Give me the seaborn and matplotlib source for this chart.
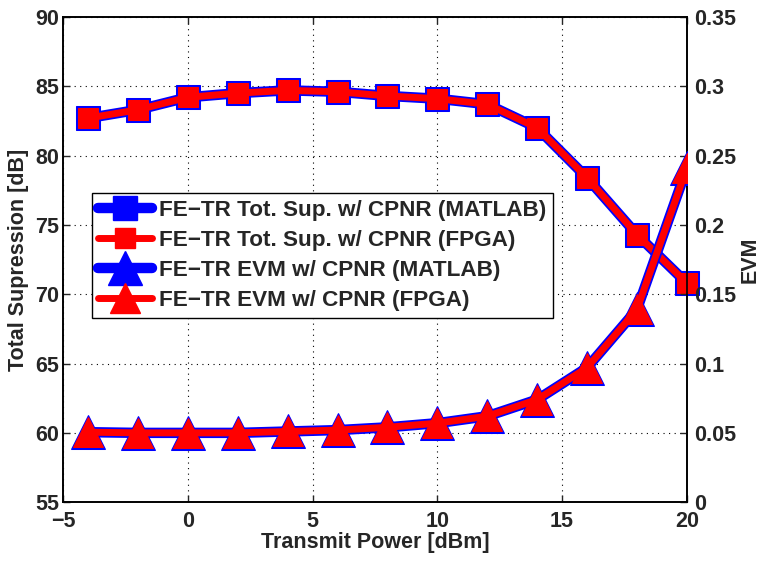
import numpy as np
import pandas as pd
import matplotlib
matplotlib.use("Agg")
import matplotlib.pyplot as plt
from matplotlib.lines import Line2D
import seaborn as sns

# data
tx_power = [-4, -2, 0, 2, 4, 6, 8, 10, 12, 14, 16, 18, 20]
sup_matlab = [82.7, 83.3, 84.2, 84.5, 84.7, 84.6, 84.3, 84.1, 83.7, 82.0, 78.4, 74.3, 70.8]
sup_fpga = [82.7, 83.3, 84.2, 84.5, 84.7, 84.6, 84.3, 84.1, 83.7, 82.0, 78.4, 74.3, 70.8]
evm_matlab = [0.0505, 0.050, 0.050, 0.050, 0.051, 0.052, 0.054, 0.057, 0.062, 0.074, 0.097, 0.139, 0.241]
evm_fpga = [0.0505, 0.050, 0.050, 0.050, 0.051, 0.052, 0.054, 0.057, 0.062, 0.074, 0.097, 0.139, 0.241]

labels = ["FE\u2212TR Tot. Sup. w/ CPNR (MATLAB)",
          "FE\u2212TR Tot. Sup. w/ CPNR (FPGA)",
          "FE\u2212TR EVM w/ CPNR (MATLAB)",
          "FE\u2212TR EVM w/ CPNR (FPGA)"]
xtick_labels = ["\u22125", "0", "5", "10", "15", "20"]
evm_tick_labels = ["0", "0.05", "0.1", "0.15", "0.2", "0.25", "0.3", "0.35"]

sns.set_style("ticks")
plt.rcParams["font.family"] = ["Liberation Sans", "DejaVu Sans"]
plt.rcParams["font.weight"] = "bold"
plt.rcParams["axes.labelweight"] = "bold"

FS = 15.5
fig = plt.figure(figsize=(7.64, 5.63), dpi=100)
ax = fig.add_axes([0.0825, 0.108, 0.8165, 0.862])
ax2 = ax.twinx()

df = pd.DataFrame({"x": tx_power, "sm": sup_matlab, "sf": sup_fpga,
                   "em": evm_matlab, "ef": evm_fpga})

blue, red = "#0000ff", "#ff0000"
sns.lineplot(data=df, x="x", y="sm", ax=ax, color=blue, lw=7.5, marker="s",
             markersize=17, markeredgecolor=blue, zorder=3, clip_on=False)
sns.lineplot(data=df, x="x", y="sf", ax=ax, color=red, lw=5, marker="s",
             markersize=14.5, markeredgecolor=red, zorder=4, clip_on=False)
sns.lineplot(data=df, x="x", y="em", ax=ax2, color=blue, lw=7.5, marker="^",
             markersize=25, markeredgecolor=blue, zorder=3)
sns.lineplot(data=df, x="x", y="ef", ax=ax2, color=red, lw=5, marker="^",
             markersize=21.5, markeredgecolor=red, zorder=4)

ax.set_xlim(-5, 20)
ax.set_ylim(55, 90)
ax2.set_ylim(0, 0.35)
ax.set_xticks(np.arange(-5, 21, 5))
ax.set_xticklabels(xtick_labels)
ax.set_yticks(np.arange(55, 91, 5))
ax2.set_yticks(np.arange(0, 0.351, 0.05))
ax2.set_yticklabels(evm_tick_labels)

ax.grid(True, linestyle=(0, (1, 4)), color="black", lw=0.8)
ax.set_xlabel("Transmit Power [dBm]", fontsize=FS, fontweight="bold", labelpad=0)
ax.set_ylabel("Total Supression [dB]", fontsize=FS, fontweight="bold", labelpad=4)
ax2.set_ylabel("EVM", fontsize=FS, fontweight="bold", labelpad=3)
for a in (ax, ax2):
    a.tick_params(direction="in", labelsize=FS, length=5, width=1, pad=3)
    for s in a.spines.values():
        s.set_linewidth(1.2)
        s.set_color("black")
ax.tick_params(top=True)
ax.tick_params(axis="x", pad=6)
ax2.tick_params(axis="y", pad=5)
for t in ax.get_xticklabels() + ax.get_yticklabels() + ax2.get_yticklabels():
    t.set_fontweight("bold")

handles = [
    Line2D([], [], color=blue, lw=7.5, marker="s", markersize=17),
    Line2D([], [], color=red, lw=5, marker="s", markersize=14.5),
    Line2D([], [], color=blue, lw=7.5, marker="^", markersize=25),
    Line2D([], [], color=red, lw=5, marker="^", markersize=21.5),
]
if ax.get_legend():
    ax.get_legend().remove()
if ax2.get_legend():
    ax2.get_legend().remove()
leg = ax2.legend(handles, labels, loc="upper left", bbox_to_anchor=(0.046, 0.637),
                 prop={"weight": "bold", "size": 16.2}, frameon=True, fancybox=False,
                 edgecolor="black", framealpha=1, handlelength=2.4, handletextpad=0.3,
                 borderpad=0.3, labelspacing=0.4, borderaxespad=0)
leg.get_frame().set_linewidth(1)
leg.set_zorder(10)

fig.savefig("out.png", dpi=100)
